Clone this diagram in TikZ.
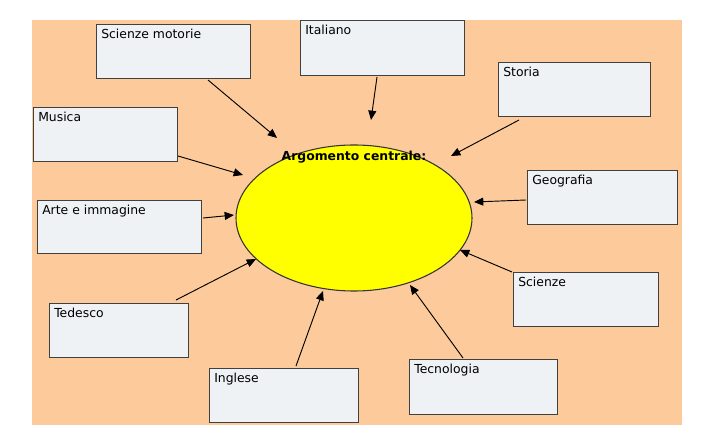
\documentclass[tikz,border=0pt]{standalone}
\usepackage{fontspec}
\setmainfont{DejaVu Sans}
\usetikzlibrary{arrows.meta,shapes.geometric}
\definecolor{peach}{HTML}{FDCB9B}
\definecolor{boxfill}{HTML}{EEF2F5}
\definecolor{ell}{HTML}{FFFF00}
\tikzset{
  subj/.style={draw=black!75, fill=boxfill, line width=0.6pt},
  lab/.style={anchor=north west, inner sep=0pt, font=\fontsize{9.3}{11}\selectfont},
  arr/.style={-{Triangle[length=7pt,width=6pt]}, line width=0.7pt}
}
\newcommand{\subjbox}[6]{\draw[subj] (#2,#3) rectangle (#4,#5); \node[lab] (#1) at (#2+5,#3+5) {#6};}
\begin{document}
\begin{tikzpicture}[x=0.75pt,y=-0.75pt]
\useasboundingbox (0,0) rectangle (717,445);
\fill[white] (0,0) rectangle (717,445);
\fill[peach] (32,20) rectangle (682,425);
\node[draw=black!80, fill=ell, ellipse, line width=0.8pt, minimum width=177pt, minimum height=109.5pt, inner sep=0pt] (c) at (354,218) {};
\node[font=\fontsize{9.3}{11}\selectfont\bfseries] (t) at (354,157) {Argomento centrale:};
\subjbox{sm}{96}{24}{250}{78}{Scienze motorie}
\subjbox{it}{300}{20}{464}{75}{Italiano}
\subjbox{st}{498}{62}{650}{116}{Storia}
\subjbox{mu}{33}{107}{177}{161}{Musica}
\subjbox{ge}{527}{170}{677}{224}{Geografia}
\subjbox{ar}{37}{200}{201}{253}{Arte e immagine}
\subjbox{sc}{513}{272}{658}{326}{Scienze}
\subjbox{te}{49}{303}{188}{357}{Tedesco}
\subjbox{in}{209}{368}{358}{422}{Inglese}
\subjbox{tc}{409}{359}{557}{414}{Tecnologia}
\foreach \n/\a/\b/\cc/\d in {sm/208/80/277/138, it/377/77/371/120, st/519/120/451/156, mu/178/156/243/175, ge/526/200/474/202, ar/203/218/234/215, sc/512/272/460/250, te/176/300/256/259, in/296/366/323/291, tc/463/358/410/285}{
  \coordinate (\n-s) at (\a,\b); \coordinate (\n-e) at (\cc,\d);
  \draw[arr] (\n-s) -- (\n-e);
}
\end{tikzpicture}
\end{document}
